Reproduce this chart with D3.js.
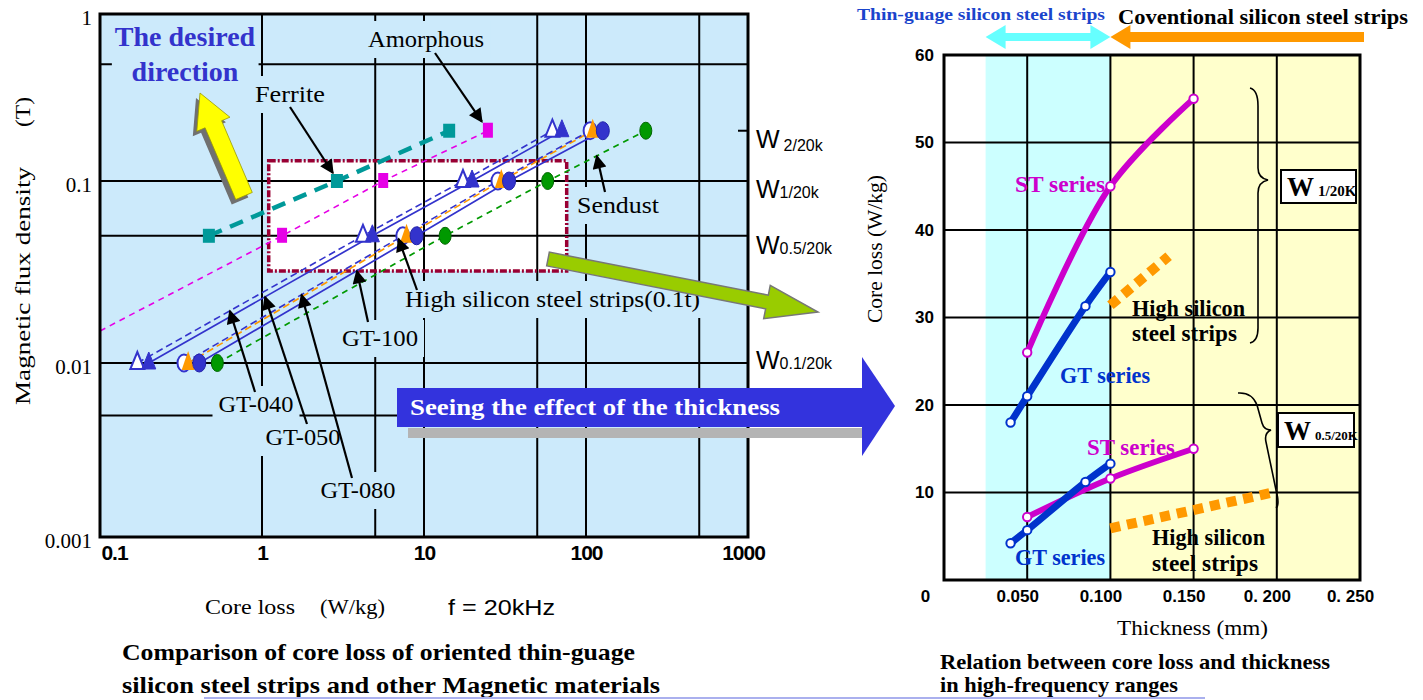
<!DOCTYPE html>
<html>
<head>
<meta charset="utf-8">
<script src="https://cdn.jsdelivr.net/npm/d3@7"></script>
<style>
body { margin: 0; background: #fff; }
svg text { font-family: "Liberation Serif", "DejaVu Serif", "Times New Roman", serif; }
svg text.sans { font-family: "Liberation Sans", Arial, sans-serif; }
</style>
</head>
<body>
<svg width="1423" height="700"></svg>
<script>
// ---- left chart: core loss (W/kg) read at B = 0.01 / 0.05 / 0.1 / 0.2 T, f = 20kHz
var fluxLevels = [0.01, 0.05, 0.1, 0.2];
var gt040Loss = [0.17, 4.2, 17.4, 62];
var gt050Loss = [0.2, 4.8, 19.8, 71];
var gt080Loss = [0.33, 7.4, 28.6, 106];
var highSiLoss = [0.35, 7.8, 30, 110];
var gt100Loss = [0.41, 9.0, 33.5, 127];
var sendustLoss = [0.53, 13.5, 58, 234];
var ferriteFlux = [0.05, 0.1, 0.2];
var ferriteLoss = [0.47, 2.9, 14.3];
var amorphousFlux = [0.015, 0.05, 0.1, 0.2];
var amorphousLoss = [0.1, 1.33, 5.6, 24.8];
var amorphousMarked = [false, true, true, true];

var lossTicks = [0.1, 1, 10, 100, 1000];
var fluxTicks = [0.001, 0.01, 0.1, 1];
var lossGrid = [1, 5, 10, 50, 100, 500];
var fluxGrid = [0.005, 0.01, 0.05, 0.1, 0.5];
var boxLoss = [1.1, 76], boxFlux = [0.032, 0.132];
var wLevels = [0.2, 0.1, 0.05, 0.01];
var wSubs = ["2/20k", "1/20k", "0.5/20k", "0.1/20k"];

// ---- right chart: core loss (W/kg) vs thickness (mm)
var stThick1 = [0.05, 0.10, 0.15], stLoss1 = [26, 45, 55];
var gtThick1 = [0.04, 0.05, 0.085, 0.10], gtLoss1 = [18, 21, 31.3, 35.2];
var hsThick1 = [0.10, 0.135], hsLoss1 = [31.4, 37];
var stThick05 = [0.05, 0.10, 0.15], stLoss05 = [7.2, 11.6, 15];
var gtThick05 = [0.04, 0.05, 0.085, 0.10], gtLoss05 = [4.2, 5.7, 11.2, 13.3];
var hsThick05 = [0.10, 0.20], hsLoss05 = [5.9, 10.1];

var thickTicks = [0, 0.05, 0.1, 0.15, 0.2, 0.25];
var thickLabels = ["0", "0.050", "0.100", "0.150", "0. 200", "0. 250"];
var coreTicks = [10, 20, 30, 40, 50, 60];
var thinRange = [0.025, 0.1], convRange = [0.1, 0.25];

var BLUE = "#3333cc";

var svg = d3.select("svg");

svg.append("defs").append("marker").attr("id", "head")
    .attr("viewBox", "0 0 10 10").attr("refX", 9).attr("refY", 5)
    .attr("markerWidth", 17).attr("markerHeight", 14)
    .attr("markerUnits", "userSpaceOnUse").attr("orient", "auto")
    .append("path").attr("d", "M0,0L10,5L0,10z").attr("fill", "#000");

function pairs(xs, ys) {
    return xs.map(function (v, i) { return [v, ys[i]]; });
}

function arrowPoints(x1, y1, x2, y2, body, head, headLen) {
    var dx = x2 - x1, dy = y2 - y1, L = Math.sqrt(dx * dx + dy * dy),
        ux = dx / L, uy = dy / L, nx = -uy, ny = ux,
        bx = x2 - ux * headLen, by = y2 - uy * headLen;
    return [
        [x1 + nx * body, y1 + ny * body], [bx + nx * body, by + ny * body],
        [bx + nx * head, by + ny * head], [x2, y2],
        [bx - nx * head, by - ny * head], [bx - nx * body, by - ny * body],
        [x1 - nx * body, y1 - ny * body]
    ].map(function (p) { return p.join(","); }).join(" ");
}

function addText(g, str, x, y, o) {
    o = o || {};
    var t = g.append("text").attr("x", x).attr("y", y)
        .attr("class", o.sans ? "sans" : null)
        .attr("text-anchor", o.anchor || "start")
        .style("font-size", (o.size || 22) + "px")
        .style("font-weight", o.weight || "normal")
        .attr("fill", o.color || "#000")
        .text(str);
    if (o.len) t.attr("textLength", o.len).attr("lengthAdjust", "spacingAndGlyphs");
    return t;
}

function coverBehind(layer, node, pad, fill) {
    var b = node.getBBox();
    layer.append("rect")
        .attr("x", b.x - pad).attr("y", b.y - pad)
        .attr("width", b.width + 2 * pad).attr("height", b.height + 2 * pad)
        .attr("fill", fill);
}

function pointer(g, from, to) {
    g.append("line")
        .attr("x1", from[0]).attr("y1", from[1]).attr("x2", to[0]).attr("y2", to[1])
        .attr("stroke", "#000").attr("stroke-width", 2.2)
        .attr("marker-end", "url(#head)");
}

// ================= LEFT CHART =================
var lx = d3.scaleLog().domain([0.1, 1000]).range([100, 748]);
var ly = d3.scaleLog().domain([0.001, 0.01, 0.1, 1]).range([537, 363, 181, 14]);
var PLOT_BG = "#cceafb";

var left = svg.append("g");
var lBg = left.append("g"), lGrid = left.append("g"), lCover = left.append("g"),
    lBox = left.append("g"), lLines = left.append("g"), lMarks = left.append("g"),
    lFrame = left.append("g"), lText = left.append("g");

lBg.append("rect")
    .attr("x", lx(0.1)).attr("y", ly(1))
    .attr("width", lx(1000) - lx(0.1)).attr("height", ly(0.001) - ly(1))
    .attr("fill", PLOT_BG);
lBg.append("rect")
    .attr("x", lx(boxLoss[0])).attr("y", ly(boxFlux[1]))
    .attr("width", lx(boxLoss[1]) - lx(boxLoss[0])).attr("height", ly(boxFlux[0]) - ly(boxFlux[1]))
    .attr("fill", "#fff");

lGrid.selectAll("line.v").data(lossGrid).enter().append("line")
    .attr("x1", function (d) { return lx(d); }).attr("x2", function (d) { return lx(d); })
    .attr("y1", ly(1)).attr("y2", ly(0.001))
    .attr("stroke", "#000").attr("stroke-width", 2);
lGrid.selectAll("line.h").data(fluxGrid).enter().append("line")
    .attr("y1", function (d) { return ly(d); }).attr("y2", function (d) { return ly(d); })
    .attr("x1", lx(0.1)).attr("x2", lx(1000))
    .attr("stroke", "#000").attr("stroke-width", 2);

lBox.append("rect")
    .attr("x", lx(boxLoss[0])).attr("y", ly(boxFlux[1]))
    .attr("width", lx(boxLoss[1]) - lx(boxLoss[0])).attr("height", ly(boxFlux[0]) - ly(boxFlux[1]))
    .attr("fill", "none").attr("stroke", "#990033").attr("stroke-width", 3.5)
    .attr("stroke-dasharray", "7,2,2,2");

var lossLine = d3.line()
    .x(function (d) { return lx(d[0]); })
    .y(function (d) { return ly(d[1]); });

var leftSeries = [
    {loss: sendustLoss, flux: fluxLevels, color: "#009900", dash: "6,5", width: 1.7},
    {loss: gt100Loss, flux: fluxLevels, color: BLUE, dash: null, width: 1.7},
    {loss: highSiLoss, flux: fluxLevels, color: "#ff9900", dash: "7,4", width: 1.7},
    {loss: gt080Loss, flux: fluxLevels, color: BLUE, dash: "7,4", width: 1.6},
    {loss: gt050Loss, flux: fluxLevels, color: BLUE, dash: null, width: 1.7},
    {loss: gt040Loss, flux: fluxLevels, color: BLUE, dash: "7,4", width: 1.6},
    {loss: amorphousLoss, flux: amorphousFlux, color: "#e600e6", dash: "6,5", width: 1.6},
    {loss: ferriteLoss, flux: ferriteFlux, color: "#009999", dash: "14,9", width: 4.5}
];

lLines.selectAll("path").data(leftSeries).enter().append("path")
    .attr("d", function (s) { return lossLine(pairs(s.loss, s.flux)); })
    .attr("fill", "none")
    .attr("stroke", function (s) { return s.color; })
    .attr("stroke-width", function (s) { return s.width; })
    .attr("stroke-dasharray", function (s) { return s.dash; });

var triPath = "M0,-11L7,6L-7,6Z";
function markSet(loss, flux, draw) {
    lMarks.append("g").selectAll("g").data(pairs(loss, flux)).enter().append("g")
        .attr("transform", function (d) { return "translate(" + lx(d[0]) + "," + ly(d[1]) + ")"; })
        .each(function () { draw(d3.select(this)); });
}
markSet(gt040Loss, fluxLevels, function (m) {
    m.append("path").attr("d", triPath).attr("fill", "#fff").attr("stroke", BLUE).attr("stroke-width", 2);
});
markSet(gt050Loss, fluxLevels, function (m) {
    m.append("path").attr("d", triPath).attr("fill", BLUE).attr("stroke", BLUE).attr("stroke-width", 1);
});
markSet(gt080Loss, fluxLevels, function (m) {
    m.append("ellipse").attr("rx", 6.5).attr("ry", 8.5).attr("fill", "#fff").attr("stroke", BLUE).attr("stroke-width", 2);
});
markSet(highSiLoss, fluxLevels, function (m) {
    m.append("path").attr("d", "M0,-12L6.5,7L-6.5,7Z").attr("fill", "#ff9900");
});
markSet(gt100Loss, fluxLevels, function (m) {
    m.append("ellipse").attr("rx", 6.5).attr("ry", 9).attr("fill", BLUE).attr("stroke", "#2222aa").attr("stroke-width", 1);
});
markSet(sendustLoss, fluxLevels, function (m) {
    m.append("ellipse").attr("rx", 6).attr("ry", 8.5).attr("fill", "#009900").attr("stroke", "#006600").attr("stroke-width", 1);
});
lMarks.append("g").selectAll("rect")
    .data(pairs(amorphousLoss, amorphousFlux).filter(function (d, i) { return amorphousMarked[i]; }))
    .enter().append("rect")
    .attr("x", function (d) { return lx(d[0]) - 5; }).attr("y", function (d) { return ly(d[1]) - 8; })
    .attr("width", 10).attr("height", 15).attr("fill", "#e600e6");
lMarks.append("g").selectAll("rect").data(pairs(ferriteLoss, ferriteFlux)).enter().append("rect")
    .attr("x", function (d) { return lx(d[0]) - 6; }).attr("y", function (d) { return ly(d[1]) - 7; })
    .attr("width", 12).attr("height", 14).attr("fill", "#009999");

lFrame.append("rect")
    .attr("x", lx(0.1)).attr("y", ly(1))
    .attr("width", lx(1000) - lx(0.1)).attr("height", ly(0.001) - ly(1))
    .attr("fill", "none").attr("stroke", "#000").attr("stroke-width", 3);

// axes (tick labels only)
left.append("g").attr("transform", "translate(0," + ly(0.001) + ")")
    .call(d3.axisBottom(lx).tickValues(lossTicks).tickFormat(d3.format("~g")).tickSize(0).tickPadding(8))
    .call(function (a) { a.select(".domain").remove(); })
    .selectAll("text").attr("class", "sans").style("font-size", "21px").style("font-weight", "bold")
    .attr("fill", "#000").attr("letter-spacing", -1)
    .attr("x", function (d, i) { return i === 0 ? 14 : (i === lossTicks.length - 1 ? -5 : 0); });
left.append("g").attr("transform", "translate(" + lx(0.1) + ",0)")
    .call(d3.axisLeft(ly).tickValues(fluxTicks).tickFormat(d3.format("~g")).tickSize(0).tickPadding(8))
    .call(function (a) { a.select(".domain").remove(); })
    .selectAll("text").style("font-size", "21px").attr("fill", "#000").attr("dy", "0.5em");

// point on a series segment, in pixels
function along(loss, flux, i, t) {
    var a = [lx(loss[i]), ly(flux[i])], b = [lx(loss[i + 1]), ly(flux[i + 1])];
    return [a[0] + (b[0] - a[0]) * t, a[1] + (b[1] - a[1]) * t];
}

// labels on the plot (each clears the grid behind it)
var desired = lText.append("g");
addText(desired, "The desired", 185, 46, {anchor: "middle", size: 28, weight: "bold", color: BLUE});
addText(desired, "direction", 185, 81, {anchor: "middle", size: 28, weight: "bold", color: BLUE});
coverBehind(lCover, desired.node(), 3, PLOT_BG);

var notes = [
    {txt: "Ferrite", x: 290, y: 102, anchor: "middle"},
    {txt: "Amorphous", x: 426, y: 47, anchor: "middle"},
    {txt: "Sendust", x: 618, y: 213, anchor: "middle"},
    {txt: "High silicon steel strips(0.1t)", x: 405, y: 307, anchor: "start"},
    {txt: "GT-100", x: 380, y: 346, anchor: "middle"},
    {txt: "GT-040", x: 256, y: 412, anchor: "middle"},
    {txt: "GT-050", x: 303, y: 445, anchor: "middle"},
    {txt: "GT-080", x: 358, y: 498, anchor: "middle"}
];
var noteLen = [70, 116, 82, 295, 76, 75, 75, 75];
notes.forEach(function (n, i) {
    var t = addText(lText, n.txt, n.x, n.y, {anchor: n.anchor, size: 23, len: noteLen[i]});
    coverBehind(lCover, t.node(), 6, PLOT_BG);
});

pointer(lText, [290, 107], [lx(ferriteLoss[1]) - 4, ly(ferriteFlux[1]) - 8]);
pointer(lText, [435, 53], [lx(amorphousLoss[3]) - 6, ly(amorphousFlux[3]) - 9]);
pointer(lText, [605, 192], along(sendustLoss, fluxLevels, 2, 0.5));
pointer(lText, [417, 290], [lx(highSiLoss[1]) - 8, ly(fluxLevels[1]) + 3]);
pointer(lText, [368, 322], along(gt100Loss, fluxLevels, 0, 0.725));
pointer(lText, [255, 392], along(gt040Loss, fluxLevels, 0, 0.41));
pointer(lText, [307, 424], along(gt050Loss, fluxLevels, 0, 0.52));
pointer(lText, [352, 478], along(gt080Loss, fluxLevels, 0, 0.537));

// W levels on the right edge
lText.append("line").attr("x1", lx(1000) - 10).attr("x2", lx(1000))
    .attr("y1", ly(0.2)).attr("y2", ly(0.2)).attr("stroke", "#000").attr("stroke-width", 2);
var wOff = [17, 17, 18, 6];
wLevels.forEach(function (v, i) {
    var t = lText.append("text").attr("x", 756).attr("y", ly(v) + wOff[i])
        .attr("class", "sans").style("font-size", "25px").attr("fill", "#000");
    t.append("tspan").text("W");
    t.append("tspan").style("font-size", "16px")
        .attr("dx", i === 0 ? 4 : 0).attr("dy", i === 0 ? 3 : 0).text(wSubs[i]);
});

// axis titles and caption
addText(left, "Magnetic flux density", 0, 0, {size: 22, len: 238})
    .attr("transform", "translate(30,405) rotate(-90)");
addText(left, "(T)", 0, 0, {size: 22, len: 30})
    .attr("transform", "translate(30,127) rotate(-90)");
addText(left, "Core loss", 205, 614, {size: 21, len: 90});
addText(left, "(W/kg)", 320, 614, {size: 21, len: 65});
addText(left, "f = 20kHz", 448, 615, {sans: true, size: 22, len: 107});
addText(left, "Comparison of core loss of oriented thin-guage", 122, 660,
    {size: 24, weight: "bold", len: 513});
addText(left, "silicon steel strips and other Magnetic materials", 122, 693,
    {size: 24, weight: "bold", len: 538});
svg.append("line").attr("x1", 204).attr("x2", 1205).attr("y1", 698).attr("y2", 698)
    .attr("stroke", "#aab0ee").attr("stroke-width", 2);

// yellow "desired direction" arrow
svg.append("polygon").attr("points", arrowPoints(240, 201, 196, 98, 9, 18, 34)).attr("fill", "#707070");
svg.append("polygon").attr("points", arrowPoints(244, 196, 200, 93, 9, 18, 34))
    .attr("fill", "#ffff00").attr("stroke", "#999900").attr("stroke-width", 0.8);

// green arrow towards the right chart
svg.append("polygon").attr("points", arrowPoints(548, 259, 818, 312, 7, 17, 52))
    .attr("fill", "#99cc00").attr("stroke", "#777").attr("stroke-width", 1.5);

// blue banner
svg.append("rect").attr("x", 408).attr("y", 428).attr("width", 454).attr("height", 10)
    .attr("fill", "#b4b4b4");
svg.append("rect").attr("x", 397).attr("y", 388).attr("width", 466).attr("height", 39)
    .attr("fill", "#3333dd");
svg.append("polygon").attr("points", "862,357 895,406 862,456").attr("fill", "#3333dd");
addText(svg, "Seeing the effect of the thickness", 410, 415,
    {size: 24, weight: "bold", color: "#fff", len: 370});

// ================= RIGHT CHART =================
var rx = d3.scaleLinear().domain([0, 0.25]).range([944, 1360]);
var ry = d3.scaleLinear().domain([0, 60]).range([580, 55]);
var right = svg.append("g");

right.append("rect").attr("x", rx(thinRange[0])).attr("y", ry(60))
    .attr("width", rx(thinRange[1]) - rx(thinRange[0])).attr("height", ry(0) - ry(60))
    .attr("fill", "#ccffff");
right.append("rect").attr("x", rx(convRange[0])).attr("y", ry(60))
    .attr("width", rx(convRange[1]) - rx(convRange[0])).attr("height", ry(0) - ry(60))
    .attr("fill", "#ffffcc");

right.selectAll("line.v").data(thickTicks.slice(1, 5)).enter().append("line")
    .attr("x1", function (d) { return rx(d); }).attr("x2", function (d) { return rx(d); })
    .attr("y1", ry(60)).attr("y2", ry(0)).attr("stroke", "#000").attr("stroke-width", 2);
right.selectAll("line.h").data(coreTicks.slice(0, 5)).enter().append("line")
    .attr("y1", function (d) { return ry(d); }).attr("y2", function (d) { return ry(d); })
    .attr("x1", rx(0)).attr("x2", rx(0.25)).attr("stroke", "#000").attr("stroke-width", 2);
right.append("rect").attr("x", rx(0)).attr("y", ry(60))
    .attr("width", rx(0.25) - rx(0)).attr("height", ry(0) - ry(60))
    .attr("fill", "none").attr("stroke", "#000").attr("stroke-width", 3);

right.append("g").attr("transform", "translate(0," + ry(0) + ")")
    .call(d3.axisBottom(rx).tickValues(thickTicks)
        .tickFormat(function (d, i) { return thickLabels[i]; }).tickSize(0).tickPadding(10))
    .call(function (a) { a.select(".domain").remove(); })
    .selectAll("text").attr("class", "sans").style("font-size", "17px").style("font-weight", "bold")
    .attr("fill", "#000").attr("x", function (d) { return d === 0 ? -19 : -10; });
right.append("g").attr("transform", "translate(" + (rx(0) - 8) + ",0)")
    .call(d3.axisLeft(ry).tickValues(coreTicks).tickSize(0).tickPadding(2))
    .call(function (a) { a.select(".domain").remove(); })
    .selectAll("text").attr("class", "sans").style("font-size", "17px").style("font-weight", "bold")
    .attr("fill", "#000");

var thickLine = d3.line().curve(d3.curveCatmullRom.alpha(0.5))
    .x(function (d) { return rx(d[0]); })
    .y(function (d) { return ry(d[1]); });

var rightSeries = [
    {t: hsThick1, v: hsLoss1, color: "#ff9900", width: 10, dash: "10,7", dots: false},
    {t: hsThick05, v: hsLoss05, color: "#ff9900", width: 10, dash: "10,7", dots: false},
    {t: stThick1, v: stLoss1, color: "#cc00cc", width: 6, dash: null, dots: true},
    {t: gtThick1, v: gtLoss1, color: "#0033cc", width: 7, dash: null, dots: true},
    {t: stThick05, v: stLoss05, color: "#cc00cc", width: 6, dash: null, dots: true},
    {t: gtThick05, v: gtLoss05, color: "#0033cc", width: 7, dash: null, dots: true}
];
rightSeries.forEach(function (s) {
    right.append("path").attr("d", thickLine(pairs(s.t, s.v)))
        .attr("fill", "none").attr("stroke", s.color).attr("stroke-width", s.width)
        .attr("stroke-dasharray", s.dash);
    if (s.dots) {
        right.append("g").selectAll("circle").data(pairs(s.t, s.v)).enter().append("circle")
            .attr("cx", function (d) { return rx(d[0]); }).attr("cy", function (d) { return ry(d[1]); })
            .attr("r", 4.2).attr("fill", "#fff").attr("stroke", s.color).attr("stroke-width", 2);
    }
});

// series labels
addText(right, "ST series", 1015, 192, {size: 23, weight: "bold", color: "#cc00cc", len: 90});
addText(right, "GT series", 1060, 383, {size: 23, weight: "bold", color: "#0033cc", len: 90});
addText(right, "High silicon", 1132, 316, {size: 23, weight: "bold", len: 113});
addText(right, "steel strips", 1132, 341, {size: 23, weight: "bold", len: 105});
addText(right, "ST series", 1087, 455, {size: 23, weight: "bold", color: "#cc00cc", len: 88});
addText(right, "High silicon", 1152, 545, {size: 23, weight: "bold", len: 113});
addText(right, "steel strips", 1152, 571, {size: 23, weight: "bold", len: 106});
addText(right, "GT series", 1015, 565, {size: 23, weight: "bold", color: "#0033cc", len: 90});

// braces and W boxes
right.append("path")
    .attr("d", "M1250,88 Q1258,90 1258,106 L1258,168 Q1258,178 1268,180 Q1258,182 1258,193 L1258,328 Q1258,341 1250,343")
    .attr("fill", "none").attr("stroke", "#000").attr("stroke-width", 1.6);
right.append("path")
    .attr("d", "M1238,393 Q1252,392 1257,405 L1262,423 Q1264,430 1271,430 Q1264,433 1266,442 L1276,490 Q1280,505 1276,508")
    .attr("fill", "none").attr("stroke", "#000").attr("stroke-width", 1.6);

function wBox(x, y, w, h, sub, subSize) {
    right.append("rect").attr("x", x).attr("y", y).attr("width", w).attr("height", h)
        .attr("fill", "#fff").attr("stroke", "#000").attr("stroke-width", 2);
    var t = right.append("text").attr("x", x + 6).attr("y", y + h - 7)
        .style("font-weight", "bold").attr("fill", "#000");
    t.append("tspan").style("font-size", "27px").text("W");
    t.append("tspan").style("font-size", subSize + "px").attr("dx", 4).text(sub);
}
wBox(1281, 170, 75, 33, "1/20K", 15);
wBox(1278, 413, 76, 34, "0.5/20K", 13);

// titles
addText(right, "Core loss (W/kg)", 0, 0, {size: 20, len: 148})
    .attr("transform", "translate(882,323) rotate(-90)");
addText(right, "Thickness (mm)", 1117, 635, {size: 21, len: 151});
addText(right, "Relation between core loss and thickness", 940, 669,
    {size: 21, weight: "bold", len: 390});
addText(right, "in high-frequency ranges", 940, 692, {size: 21, weight: "bold", len: 238});

// range arrows on top
svg.append("polygon").attr("points", arrowPoints(1364, 37, rx(thinRange[1]), 37, 5, 12, 20))
    .attr("fill", "#ff9900");
svg.append("polygon").attr("points", arrowPoints(1049, 37, rx(thinRange[1]), 37, 4, 12, 20))
    .attr("fill", "#66ffff");
svg.append("polygon").attr("points", arrowPoints(1049, 37, rx(thinRange[0]), 37, 4, 12, 20))
    .attr("fill", "#66ffff");
addText(svg, "Thin-guage silicon steel strips", 857, 20,
    {size: 17, weight: "bold", color: "#1a44cc", len: 248});
addText(svg, "Coventional silicon steel strips", 1118, 24, {size: 22, weight: "bold", len: 290});
</script>
</body>
</html>
